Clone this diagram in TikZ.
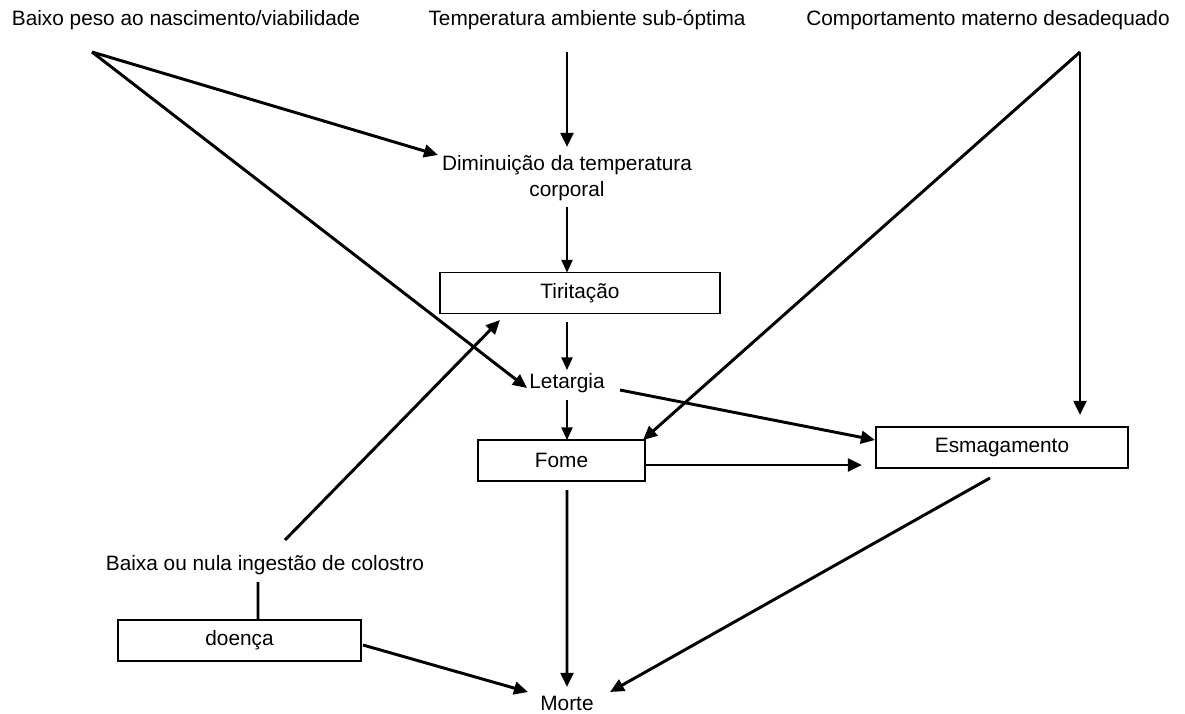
\documentclass[tikz,border=0pt]{standalone}
\usepackage{fontspec}
\setmainfont{Liberation Sans}
\usetikzlibrary{arrows.meta}
\tikzset{
  caixa/.style={draw,line width=1.2pt,inner sep=0pt},
  grosso/.style={line width=2.1pt,-{Triangle[length=10pt,width=9pt]}},
  fino/.style={line width=1.1pt,-{Triangle[length=9pt,width=8pt]}}
}
\begin{document}
\begin{tikzpicture}[x=0.025cm,y=-0.025cm,font=\fontsize{14.8}{19}\selectfont]
      \useasboundingbox (0,0) rectangle (1185,713);
      \draw
        (186,20) node (peso){Baixo peso ao nascimento/viabilidade}
        (587,20) node (temp){Temperatura ambiente sub-óptima}
        (988,20) node (mat){Comportamento materno desadequado}
        (567,178) node[align=center] (dim){Diminuição da temperatura\\corporal}
        (580,293) node[caixa,minimum width=7cm,minimum height=1.025cm] (tir){Tiritação}
        (567,383) node (let){Letargia}
        (561.5,460.5) node[caixa,minimum width=4.175cm,minimum height=1.025cm] (fome){Fome}
        (1002,447.5) node[caixa,minimum width=6.3cm,minimum height=1.025cm] (esm){Esmagamento}
        (265,565) node (col){Baixa ou nula ingestão de colostro}
        (239.5,640.5) node[caixa,minimum width=6.075cm,minimum height=1.025cm] (doe){doença}
        (567,703) node (morte){Morte};
      \begin{scope}[grosso]
        \draw ([shift={(-94,32)}]peso.center) to ([shift={(-129,-23)}]dim.center);
        \draw ([shift={(-94,32)}]peso.center) to ([shift={(-40,5)}]let.center);
        \draw ([shift={(-20,32)}]temp.center) to ([shift={(0,-31)}]dim.center);
        \draw ([shift={(53,7)}]let.center) to ([shift={(-127,-7.5)}]esm.center);
        \draw ([shift={(92,32)}]mat.center) to ([shift={(81.5,-20.5)}]fome.center);
        \draw ([shift={(92,32)}]mat.center) to ([shift={(78,-32.5)}]esm.center);
        \draw ([shift={(83.5,4.5)}]fome.center) to ([shift={(-140,17.5)}]esm.center);
        \draw ([shift={(5.5,29.5)}]fome.center) to ([shift={(0,-16)}]morte.center);
        \draw ([shift={(-12,30.5)}]esm.center) to ([shift={(43,-11)}]morte.center);
        \draw ([shift={(20,-25)}]col.center) to ([shift={(-80,27)}]tir.center);
        \draw ([shift={(123.5,4.5)}]doe.center) to ([shift={(-39,-11)}]morte.center);
        \draw[-] ([shift={(-7,17)}]col.center) to ([shift={(18.5,-20.5)}]doe.center);
      \end{scope}
      \begin{scope}[fino]
        \draw ([shift={(0,29)}]dim.center) to ([shift={(-13,-20.5)}]tir.center);
        \draw ([shift={(-13,29)}]tir.center) to ([shift={(0,-13)}]let.center);
        \draw ([shift={(0,17)}]let.center) to ([shift={(5.5,-20.5)}]fome.center);
      \end{scope}
    \end{tikzpicture}
\end{document}
